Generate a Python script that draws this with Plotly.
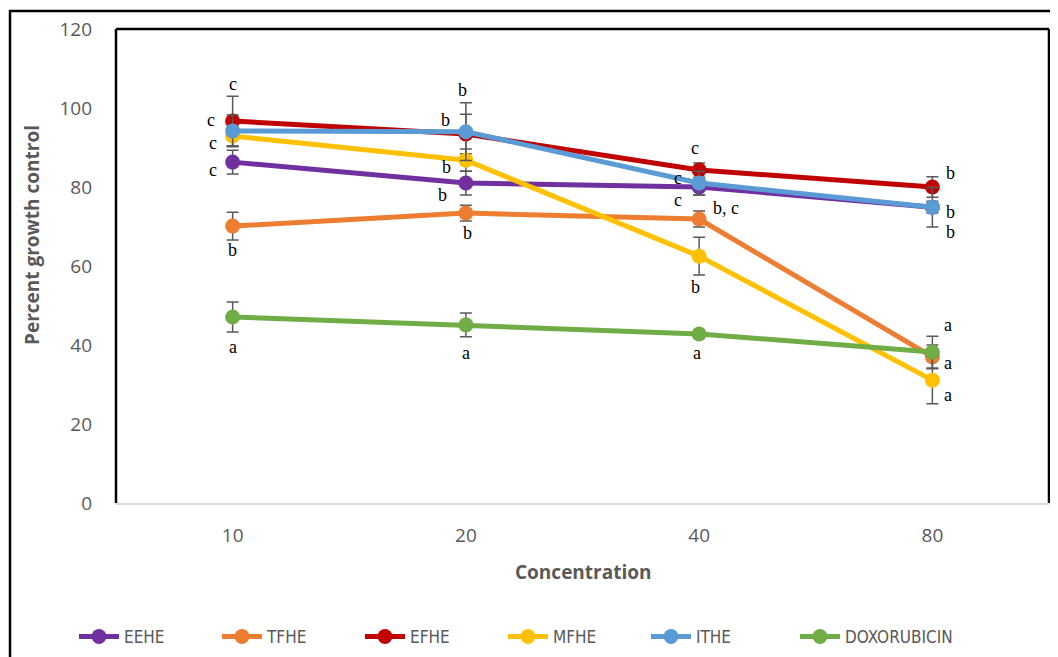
import plotly.graph_objects as go

categories = ["10", "20", "40", "80"]

series_names = ["EEHE", "TFHE", "EFHE", "MFHE", "ITHE", "DOXORUBICIN"]
eehe = [86.3, 81.0, 80.0, 74.9]
tfhe = [70.1, 73.4, 71.9, 37.0]
efhe = [96.7, 93.4, 84.3, 80.0]
mfhe = [92.9, 86.8, 62.5, 31.1]
ithe = [94.2, 94.0, 81.0, 74.9]
doxo = [47.1, 45.1, 42.8, 38.2]

eehe_err = [3.0, 3.0, 2.0, 1.5]
tfhe_err = [3.5, 2.0, 2.0, 3.0]
efhe_err = [6.3, 5.0, 1.8, 2.6]
mfhe_err = [2.5, 2.8, 4.8, 6.0]
ithe_err = [4.0, 7.3, 3.0, 5.0]
doxo_err = [3.8, 3.0, 1.0, 4.0]

colors = ["#7030A0", "#ED7D31", "#C00000", "#FFC000", "#5B9BD5", "#70AD47"]

# significance letters: (category, y value, letter, horizontal shift px)
sig_cat = ["10", "10", "10", "10", "10", "10",
           "20", "20", "20", "20", "20", "20",
           "40", "40", "40", "40", "40", "40",
           "80", "80", "80", "80", "80", "80"]
sig_y = [106.1, 97.0, 91.1, 84.3, 64.1, 39.5,
         104.6, 97.0, 85.1, 78.0, 68.4, 38.0,
         89.9, 82.3, 76.7, 74.7, 54.7, 38.0,
         83.5, 73.7, 68.6, 45.1, 35.4, 27.3]
sig_text = ["c", "c", "c", "c", "b", "a",
            "b", "b", "b", "b", "b", "a",
            "c", "c", "c", "b, c", "b", "a",
            "b", "b", "b", "a", "a", "a"]
sig_shift = [0, -22, -20, -20, 0, 0,
             -3, -20, -19, -23, 2, 0,
             -4, -21, -21, 27, -4, -2,
             18, 18, 18, 16, 16, 16]

values = [eehe, tfhe, efhe, mfhe, ithe, doxo]
errors = [eehe_err, tfhe_err, efhe_err, mfhe_err, ithe_err, doxo_err]

# page has an 8px body margin; coordinates below are page pixels
OFF = 8
PL, PT, PR, PB = 116, 29, 1049, 503
PW, PH = PR - PL, PB - PT
FW, FH = 1058 - OFF, 657 - OFF


def px(x):
    return (x - PL) / PW


def py(y):
    return (PB - y) / PH


fig = go.Figure()
for i, (name, vals, errs, col) in enumerate(zip(series_names, values, errors, colors)):
    fig.add_trace(go.Scatter(
        x=categories, y=vals, name=name, mode="lines+markers",
        line=dict(color=col, width=5),
        marker=dict(color=col, size=15),
        error_y=dict(type="data", array=errs, visible=True,
                     color="#595959", thickness=1.5, width=6),
        legend="legend2" if i == len(series_names) - 1 else "legend",
    ))

annotations = []
for c, y, t, s in zip(sig_cat, sig_y, sig_text, sig_shift):
    annotations.append(dict(x=categories.index(c), y=y, xref="x", yref="y", text=t, showarrow=False,
                            xshift=s, xanchor="center", yanchor="middle",
                            font=dict(family="Liberation Serif", size=18, color="#000000")))

annotations.append(dict(x=px(583), y=py(572), xref="paper", yref="paper",
                        xanchor="center", yanchor="middle",
                        text="<b>Concentration</b>", showarrow=False,
                        font=dict(family="Open Sans", size=19, color="#595959")))
annotations.append(dict(x=px(32), y=py(235), xref="paper", yref="paper",
                        xanchor="center", yanchor="middle",
                        text="<b>Percent growth control</b>", showarrow=False, textangle=-90,
                        font=dict(family="Open Sans", size=19, color="#595959")))

shapes = [
    dict(type="rect", xref="paper", yref="paper", x0=px(10), x1=px(1070),
         y0=py(670), y1=py(11), line=dict(color="#000000", width=2.5),
         fillcolor="rgba(0,0,0,0)", layer="below"),
    dict(type="line", xref="paper", yref="paper", x0=0, x1=0, y0=0, y1=1,
         line=dict(color="#000000", width=2.5)),
    dict(type="line", xref="paper", yref="paper", x0=0, x1=1, y0=1, y1=1,
         line=dict(color="#000000", width=2.5)),
    dict(type="line", xref="paper", yref="paper", x0=1, x1=1, y0=0, y1=1,
         line=dict(color="#000000", width=2.5)),
]

legend_font = dict(family="DejaVu Sans Condensed", size=17, color="#595959")

fig.update_layout(
    width=FW, height=FH,
    margin=dict(l=PL - OFF, r=FW - (PR - OFF), t=PT - OFF, b=FH - (PB - OFF), pad=0,
                autoexpand=False),
    paper_bgcolor="white", plot_bgcolor="white",
    showlegend=True,
    legend=dict(orientation="h", x=px(74), xanchor="left", y=py(637), yanchor="middle",
                font=legend_font, itemwidth=40, entrywidth=88, entrywidthmode="pixels",
                traceorder="normal"),
    legend2=dict(orientation="h", x=px(795), xanchor="left", y=py(637), yanchor="middle",
                 font=legend_font, itemwidth=40, traceorder="normal"),
    annotations=annotations,
    shapes=shapes,
    xaxis=dict(type="category", range=[-0.5, 3.5], showgrid=False, zeroline=False,
               showline=True, linecolor="#D9D9D9", linewidth=1.5,
               tickfont=dict(family="Open Sans", size=19, color="#595959"),
               ticks="", ticklabelstandoff=14),
    yaxis=dict(range=[0, 120], dtick=20, showgrid=False, zeroline=False, showline=False,
               tickfont=dict(family="Open Sans", size=19, color="#595959"),
               ticks="", ticklabelstandoff=23),
)

fig.write_html("out.html")
